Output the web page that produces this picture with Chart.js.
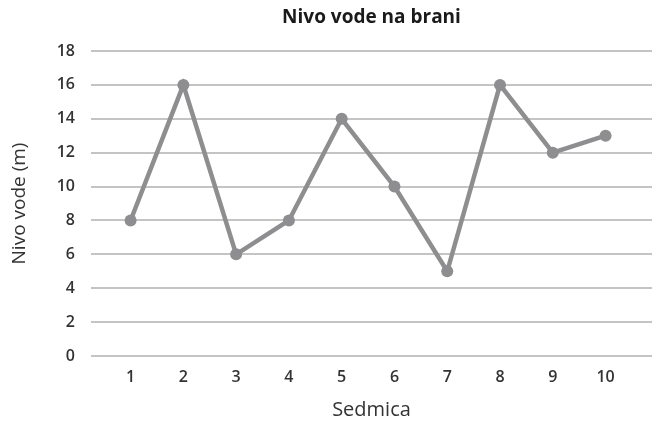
<!DOCTYPE html>
<html lang="sr">
<head>
    <meta charset="UTF-8">
    <title>Nivo vode na brani</title>
    <script src="https://cdn.jsdelivr.net/npm/chart.js"></script>
    <style>
        html, body { margin: 0; padding: 0; background: #fff; }
        #wrap { width: 658px; height: 427px; }
    </style>
</head>
<body>
    <div id="wrap"><canvas id="grafik"></canvas></div>

    <script>
        // sedmice i nivo vode (m)
        var sedmice = [1, 2, 3, 4, 5, 6, 7, 8, 9, 10];
        var nivo = [8, 16, 6, 8, 14, 10, 5, 16, 12, 13];
        var yTicks = [0, 2, 4, 6, 8, 10, 12, 14, 16, 18];

        var tacke = [];
        for (var i = 0; i < sedmice.length; i++) {
            tacke.push({ x: sedmice[i], y: nivo[i] });
        }

        var font = "'Open Sans', 'Noto Sans', sans-serif";
        var siva = '#8e8e90';

        var ctx = document.getElementById('grafik').getContext('2d');
        var grafik = new Chart(ctx, {
            type: 'line',
            data: {
                datasets: [{
                    label: 'Nivo vode',
                    data: tacke,
                    borderColor: siva,
                    backgroundColor: siva,
                    borderWidth: 4.5,
                    pointRadius: 6,
                    pointHoverRadius: 6,
                    pointBackgroundColor: siva,
                    pointBorderWidth: 0,
                    tension: 0
                }]
            },
            options: {
                responsive: true,
                maintainAspectRatio: false,
                animation: false,
                layout: { padding: { left: 0, right: 2, top: 0, bottom: 0 } },
                plugins: {
                    legend: { display: false },
                    tooltip: { enabled: false },
                    title: {
                        display: true,
                        fullSize: false,
                        text: 'Nivo vode na brani',
                        color: '#1a1a1a',
                        font: { family: font, size: 19, weight: 'bold', lineHeight: 1.2 },
                        padding: { top: 6, bottom: 22.2 }
                    }
                },
                scales: {
                    x: {
                        type: 'linear',
                        min: 0.25,
                        max: 10.88,
                        afterBuildTicks: function (axis) {
                            axis.ticks = sedmice.map(function (v) { return { value: v }; });
                        },
                        afterFit: function (axis) { axis.height = 71; },
                        grid: { display: false, drawTicks: false },
                        border: { display: false },
                        ticks: {
                            color: '#333',
                            font: { family: font, size: 16, weight: '600' },
                            padding: 12
                        },
                        title: {
                            display: true,
                            text: 'Sedmica',
                            color: '#333',
                            font: { family: font, size: 20, lineHeight: 1.2 },
                            padding: { top: 0, bottom: 5 }
                        }
                    },
                    y: {
                        min: 0,
                        max: 18,
                        afterBuildTicks: function (axis) {
                            axis.ticks = yTicks.map(function (v) { return { value: v }; });
                        },
                        afterFit: function (axis) { axis.width = 91; },
                        grid: { color: '#c4c4c4', lineWidth: 2, drawTicks: false },
                        border: { display: false },
                        ticks: {
                            color: '#333',
                            font: { family: font, size: 16, weight: '600' },
                            padding: 16
                        },
                        title: {
                            display: true,
                            text: 'Nivo vode (m)',
                            color: '#333',
                            font: { family: font, size: 19, lineHeight: 1.2 },
                            padding: { top: 8, bottom: 0 }
                        }
                    }
                }
            }
        });
    </script>
</body>
</html>
